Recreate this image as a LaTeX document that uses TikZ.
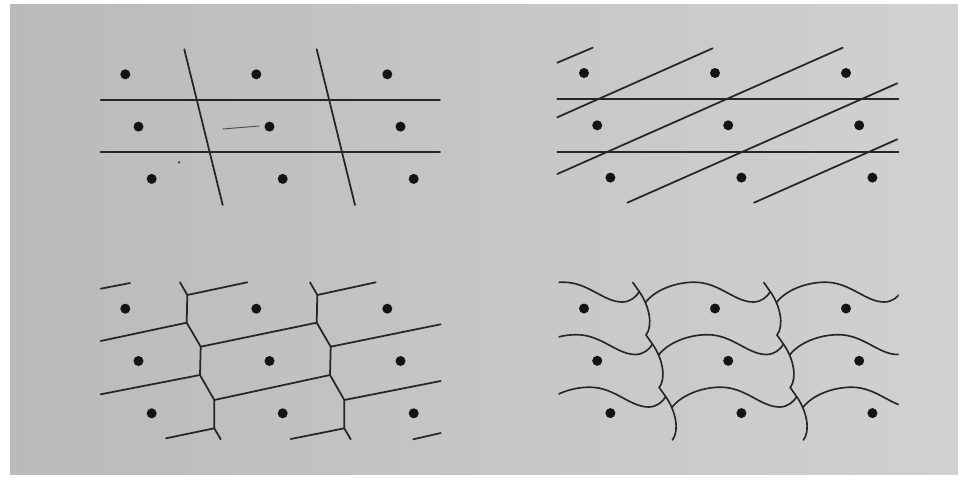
\documentclass[tikz,border=0pt]{standalone}
\begin{document}
\begin{tikzpicture}[x=0.03cm,y=-0.03cm,
  lattice/.style={line width=1.5pt,draw=black!85,line cap=round,line join=round},
  wavy/.style={line width=1.4pt,draw=black!85,line cap=round,line join=round},
  latdot/.style={fill=black!92}]
\useasboundingbox (0,0) rectangle (958,477);
% Paper
\fill[white] (0,0) rectangle (958,477);
\shade[left color=black!27,right color=black!18] (10,4) rectangle (958,474);
% Lattice points of the four panels
\foreach \ox/\oy in {125.3/74.3,584/73,125.3/308.7,584/308.5} {
  \foreach \i in {0,1,2} {
    \foreach \j in {0,1,2} {
      \fill[latdot] (\ox+131*\i+13.2*\j,\oy+52.3*\j) circle (5);
    }
  }
}
% Top left: two sets of straight lines
\draw[lattice] (100.7,100) -- (440,100);
\draw[lattice] (100.7,152.3) -- (440,152.3);
\draw[lattice] (184.3,49.3) -- (222.7,205);
\draw[lattice] (316.7,49.3) -- (355,205);
\draw[line width=0.8pt,draw=black!70] (222.7,129) -- (259.3,126);
\fill[black!75] (179,162.3) circle (1.3);
% Top right: horizontal and oblique lines
\draw[lattice] (557.3,99) -- (898.5,99);
\draw[lattice] (557.3,151.7) -- (898.5,151.7);
\foreach \xa/\ya/\xb/\yb in {557.3/62.7/592.7/47.7, 557.3/117.3/712.7/48.3,
    557.3/174/842.7/47.7, 627.3/202.7/897.3/83.3, 754/202.7/897.3/139.3}
  \draw[lattice] (\xa,\ya) -- (\xb,\yb);
% Bottom left: cell walls
\foreach \n/\s in {V/0,W/130} {
  \coordinate (\n0) at (180+\s,282.3);
  \coordinate (\n1) at (187.3+\s,295);
  \coordinate (\n2) at (186.7+\s,322.7);
  \coordinate (\n3) at (200.7+\s,346.7);
  \coordinate (\n4) at (200+\s,375);
  \coordinate (\n5) at (214.3+\s,400);
  \coordinate (\n6) at (214.3+\s,428.3);
  \coordinate (\n7) at (220.7+\s,439.3);
  \draw[lattice] (\n0) -- (\n1) -- (\n2) -- (\n3) -- (\n4) -- (\n5) -- (\n6) -- (\n7);
}
\draw[lattice] (100.7,288.7) -- (130,283);
\draw[lattice] (V1) -- (247.3,282.3);
\draw[lattice] (W1) -- (375.7,282.3);
\draw[lattice] (V2) -- (100.7,341);
\draw[lattice] (V3) -- (W2);
\draw[lattice] (W3) -- (440.7,324.3);
\draw[lattice] (V4) -- (100.7,394.3);
\draw[lattice] (V5) -- (W4);
\draw[lattice] (W5) -- (440.7,381);
\draw[lattice] (V6) -- (166,438.3);
\draw[lattice] (W6) -- (290.7,439);
\draw[lattice] (413.3,439.3) -- (440.7,433);
% Bottom right: curved cell walls
\foreach \w in {0,1} {
  \foreach \j in {0,1,2} {
    \pgfmathsetmacro{\jx}{639.3+131*\w+13.2*\j}
    \pgfmathsetmacro{\jy}{291.7+52.5*\j}
    \draw[wavy] (\jx-6.5,\jy-9.2) -- (\jx,\jy)
      .. controls (\jx+10,\jy+14) and (\jx+14,\jy+34) .. (\jx+6.7,\jy+43.3);
  }
}
\begin{scope}
  \clip (558.5,270) rectangle (898.5,450);
  \foreach \c in {-1,0,1} {
    \foreach \j in {0,1,2} {
      \pgfmathsetmacro{\jx}{639.3+131*\c+13.2*\j}
      \pgfmathsetmacro{\jy}{291.7+52.5*\j}
      \draw[wavy] (\jx+6.2,\jy+10.8)
        .. controls (\jx+15,\jy-1) and (\jx+35,\jy-9.5) .. (\jx+55,\jy-9.5)
        .. controls (\jx+80,\jy-9.5) and (\jx+95,\jy+10.3) .. (\jx+114,\jy+10.3)
        .. controls (\jx+122,\jy+10.3) and (\jx+128,\jy+5) .. (\jx+131,\jy);
    }
  }
\end{scope}
\end{tikzpicture}
\end{document}
